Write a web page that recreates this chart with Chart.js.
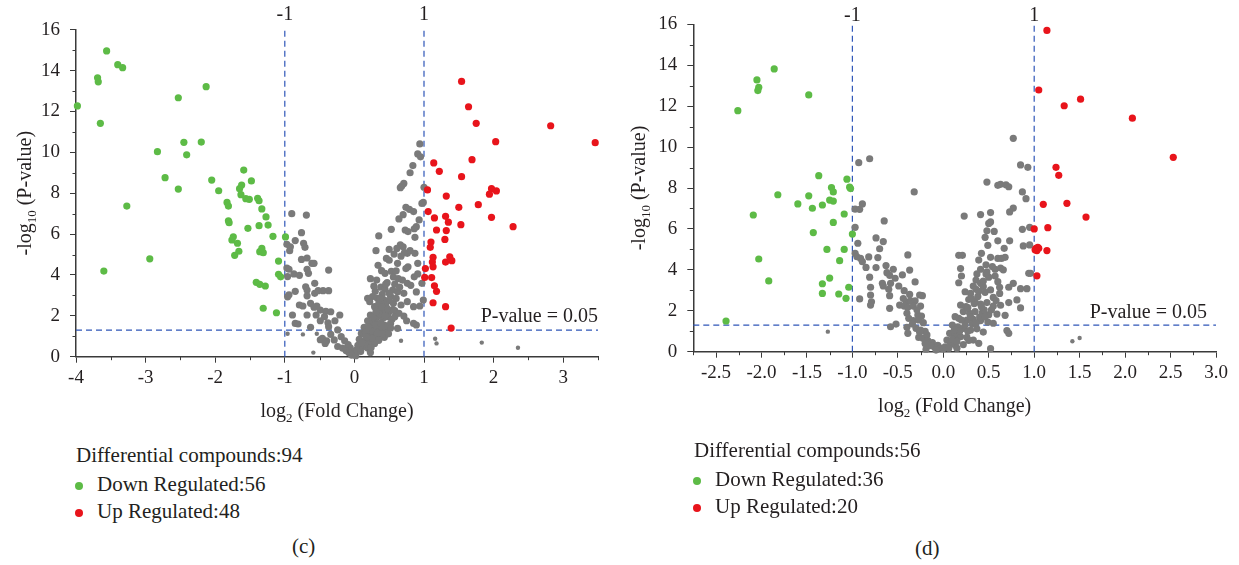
<!DOCTYPE html>
<html>
<head>
<meta charset="utf-8">
<script src="https://cdn.jsdelivr.net/npm/chart.js@4.4.1/dist/chart.umd.min.js"></script>
<style>
  body { margin: 0; background: #fff; }
  #wrap { position: relative; width: 1239px; height: 565px; overflow: hidden; font-family: 'Liberation Serif', serif; color: #231f20; }
  canvas { position: absolute; top: 0; }
  .txt { position: absolute; font-size: 21px; line-height: 20px; white-space: nowrap; }
  .dot { position: absolute; width: 8px; height: 8px; border-radius: 50%; }
</style>
</head>
<body>
<div id="wrap">
  <canvas id="chartC" width="620" height="440" style="left:0"></canvas>
  <canvas id="chartD" width="619" height="440" style="left:620px"></canvas>

  <div class="txt" style="left:76px; top:445px">Differential compounds:94</div>
  <div class="dot" style="left:75px; top:482px; background:#5dbb46"></div>
  <div class="txt" style="left:97px; top:474px">Down Regulated:56</div>
  <div class="dot" style="left:75px; top:509px; background:#e8141b"></div>
  <div class="txt" style="left:97px; top:501px">Up Regulated:48</div>
  <div class="txt" style="left:292px; top:536px">(c)</div>

  <div class="txt" style="left:694px; top:440px">Differential compounds:56</div>
  <div class="dot" style="left:693px; top:477px; background:#5dbb46"></div>
  <div class="txt" style="left:715px; top:469px">Down Regulated:36</div>
  <div class="dot" style="left:693px; top:504px; background:#e8141b"></div>
  <div class="txt" style="left:715px; top:496px">Up Regulated:20</div>
  <div class="txt" style="left:915px; top:538px">(d)</div>
</div>
<script>
// thresholds
var foldCut = [-1, 1];
var pCut = 1.3;   // -log10(0.05)

// panel (c) axes
var cXTicks = [-4, -3, -2, -1, 0, 1, 2, 3];
var cXMinor = [-3.5, -2.5, -1.5, -0.5, 0.5, 1.5, 2.5, 3.5];
var cYTicks = [0, 2, 4, 6, 8, 10, 12, 14, 16];
var yMinor = [1, 3, 5, 7, 9, 11, 13, 15];

// panel (d) axes
var dXTicks = [-2.5, -2.0, -1.5, -1.0, -0.5, 0.0, 0.5, 1.0, 1.5, 2.0, 2.5, 3.0];
var dXMinor = [-2.75, -2.25, -1.75, -1.25, -0.75, -0.25, 0.25, 0.75, 1.25, 1.75, 2.25, 2.75];
var dYTicks = [0, 2, 4, 6, 8, 10, 12, 14, 16];

// panel (c) points: [log2 FC, -log10 p]
var cDown = [[-3.98,12.27],[-3.56,14.96],[-3.40,14.29],[-3.33,14.14],[-3.69,13.65],[-3.68,13.45],[-3.65,11.42],[-3.27,7.37],
  [-3.60,4.19],[-2.94,4.79],[-2.83,10.03],[-2.72,8.76],[-2.53,12.67],[-2.53,8.20],[-2.45,10.49],[-2.41,9.88],[-2.20,10.50],
  [-2.13,13.21],[-2.05,8.64],[-1.95,8.12],[-1.83,7.55],[-1.81,7.37],[-1.81,6.65],[-1.80,6.56],[-1.76,5.71],[-1.74,5.87],
  [-1.72,4.96],[-1.68,5.55],[-1.66,5.16],[-1.65,8.22],[-1.62,8.40],[-1.63,7.93],[-1.59,9.13],[-1.56,7.73],[-1.51,7.70],
  [-1.53,6.28],[-1.48,8.60],[-1.39,7.75],[-1.37,7.63],[-1.33,7.23],[-1.37,6.41],[-1.36,5.14],[-1.33,5.30],[-1.31,5.09],
  [-1.27,6.84],[-1.24,6.44],[-1.41,3.64],[-1.36,3.54],[-1.28,3.46],[-1.31,2.37],[-1.17,5.89],[-1.12,2.15],[-1.09,4.68],
  [-1.09,4.03],[-1.06,3.91],[-0.99,5.86]];
var cUp = [[1.54,13.47],[1.64,12.23],[1.75,11.42],[2.82,11.30],[3.46,10.47],[2.03,10.52],[1.14,9.48],[1.22,9.07],[1.69,9.64],
  [1.54,8.81],[1.05,8.16],[1.32,7.86],[1.97,8.22],[2.04,8.11],[1.94,7.95],[1.78,7.44],[1.50,7.31],[1.06,7.10],[1.15,6.79],
  [1.31,6.87],[1.35,6.58],[1.97,6.82],[1.53,6.46],[2.28,6.36],[1.18,6.20],[1.32,6.17],[1.30,5.74],[1.10,5.61],[1.09,5.35],
  [1.13,4.86],[1.12,4.63],[1.37,4.89],[1.40,4.70],[1.31,4.63],[1.13,4.40],[1.02,4.31],[1.01,3.88],[1.11,3.87],[1.15,3.47],
  [1.18,3.20],[1.13,2.64],[1.31,2.45],[1.39,1.40]];
var cNs = [[-0.90,7.00],[-0.69,6.93],[-0.76,6.07],[-0.97,5.50],[-0.92,5.38],[-0.85,5.68],[-0.73,5.55],[-0.71,5.35],[-0.93,5.19],
  [-0.76,4.76],[-0.68,4.83],[-0.61,4.57],[-0.58,4.57],[-0.97,4.34],[-0.94,4.28],[-0.96,3.92],[-0.87,4.05],[-0.79,3.98],
  [-0.68,4.28],[-0.66,4.08],[-0.37,4.24],[-0.57,3.59],[-0.70,3.42],[-0.68,3.26],[-0.45,3.23],[-0.37,3.23],[-0.96,2.93],
  [-0.94,3.03],[-0.85,3.20],[-0.68,2.98],[-0.57,3.10],[-0.79,2.53],[-0.74,2.48],[-0.63,2.61],[-0.58,2.42],[-0.54,2.48],
  [-0.49,2.28],[-0.41,2.22],[-0.89,2.04],[-0.68,2.04],[-0.55,2.04],[-0.85,1.63],[-0.81,1.60],[-0.63,1.44],[-0.49,1.76],
  [-0.38,1.66],[-0.49,0.83],[-0.40,0.77],[-0.43,1.96],[-0.34,2.20],[-0.21,2.04],[-0.28,1.76],[-0.37,1.47],[-0.34,1.09],
  [-0.24,1.31],[-0.19,0.98],[-0.14,0.78],[-0.09,0.59],[-0.06,0.43],[-0.03,0.26],[0.00,0.15],[-0.46,0.90],[-0.42,0.65],
  [-0.29,0.82],[-0.24,0.50],[-0.17,0.42],[-0.52,3.23],[-0.12,0.30],[-0.08,0.20],[-0.04,0.08],[0.02,0.05],
  [0.94,10.41],[0.91,9.92],[0.95,9.78],[0.84,9.35],[0.80,9.00],[0.71,8.48],[0.68,8.35],[0.66,8.27],[1.00,8.29],[0.97,7.50],
  [0.99,7.55],[0.74,7.31],[0.79,7.21],[0.85,7.10],[0.70,6.95],[0.64,6.74],[0.93,6.69],[0.89,6.36],[0.86,6.26],[0.53,6.23],
  [0.73,6.20],[0.77,6.12],[0.35,5.91],[0.87,5.84],[0.66,5.47],[0.70,5.38],[0.61,5.30],[0.80,5.19],[0.76,5.06],[0.72,5.09],
  [0.50,5.25],[0.31,5.19],[0.57,5.02],[0.67,4.92],[0.87,5.06],[0.46,4.81],[0.50,4.72],[0.62,4.57],[0.91,4.57],[0.34,4.47],
  [0.77,4.40],[0.74,4.31],[0.39,4.21],[0.44,4.08],[0.53,4.18],[0.91,4.05],[0.86,3.91],[0.23,3.82],[0.32,3.75],[0.63,3.82],
  [0.69,3.75],[0.47,3.62],[0.76,3.59],[0.81,3.49],[0.97,3.59],[0.38,3.40],[0.44,3.30],[0.55,3.26],[0.62,3.18],[0.71,3.10],
  [0.89,3.17],[0.26,2.94],[0.19,2.86],[0.22,2.69],[0.33,2.86],[0.43,2.77],[0.50,2.74],[0.56,2.61],[0.67,2.53],[0.76,2.69],
  [0.99,2.77],[0.85,2.45],[0.94,2.48],[0.29,2.45],[0.35,2.37],[0.43,2.28],[0.50,2.20],[0.58,2.25],[0.64,2.12],[0.23,2.04],
  [0.33,1.96],[0.41,1.88],[0.48,1.96],[0.54,1.83],[0.71,1.99],[0.19,1.76],[0.26,1.66],[0.34,1.60],[0.43,1.55],[0.52,1.63],
  [0.75,1.76],[0.85,1.63],[0.89,1.55],[0.14,1.44],[0.22,1.34],[0.29,1.39],[0.38,1.31],[0.46,1.27],[0.62,1.39],[0.10,1.14],
  [0.18,1.05],[0.26,1.11],[0.33,0.98],[0.43,0.95],[0.07,0.85],[0.14,0.78],[0.22,0.72],[0.29,0.65],[0.05,0.56],[0.12,0.49],
  [0.19,0.43],[0.03,0.33],[0.09,0.25],[0.23,0.20],[0.30,1.80],[0.36,2.10],[0.40,1.45],[0.27,1.25],[0.45,2.50],[0.52,2.95],
  [0.40,3.05],[0.58,3.55],[0.30,3.20],[0.16,1.20],[0.20,0.95],[0.36,1.18],[0.48,1.50],[0.55,2.30],[0.60,2.85],[0.65,3.40],
  [0.42,2.60],[0.37,2.85],[0.15,0.60],[0.25,0.90],[0.31,1.55],[0.38,1.65],[0.44,2.00],[0.27,1.95],[0.35,2.60],[0.47,2.35],
  [0.52,1.40],[0.58,1.95],[0.20,1.45],[0.33,1.15],[0.24,0.45],[0.41,1.10],[0.50,3.10],[0.56,3.90],[0.45,3.55],[0.60,4.20],
  [0.28,3.45],[0.39,2.45],[0.31,2.20],[0.17,0.95],[0.11,0.68],[0.35,0.80],[0.49,1.12]];
var cNsSmall = [[-0.96,1.12],[-0.74,1.09],[-0.54,1.12],[-0.59,0.20],[0.67,0.78],[1.16,0.88],[1.18,0.65],[1.83,0.69],[2.35,0.44]];

// panel (d) points
var dDown = [[-2.39,1.50],[-2.26,11.78],[-2.05,13.28],[-2.03,12.92],[-2.04,12.76],[-1.86,13.82],[-1.48,12.55],[-2.09,6.68],
  [-2.03,4.53],[-1.92,3.46],[-1.82,7.67],[-1.60,7.22],[-1.48,7.62],[-1.44,7.01],[-1.37,8.60],[-1.33,7.17],[-1.43,5.82],
  [-1.23,8.02],[-1.21,7.81],[-1.25,7.41],[-1.21,7.36],[-1.21,6.32],[-1.28,5.00],[-1.25,3.60],[-1.33,3.32],[-1.33,2.85],
  [-1.15,2.82],[-1.14,4.45],[-1.09,5.00],[-1.07,2.61],[-1.04,3.15],[-1.09,6.73],[-1.06,8.43],[-1.03,8.04],[-1.02,7.97],
  [-1.00,5.75]];
var dUp = [[1.14,15.70],[1.05,12.79],[1.51,12.34],[1.33,12.02],[2.08,11.41],[2.53,9.50],[1.24,9.01],[1.27,8.62],[1.10,7.20],
  [1.36,7.25],[1.57,6.58],[1.00,6.00],[1.15,6.06],[1.02,5.05],[1.05,5.05],[1.03,4.94],[1.14,4.94],[1.03,3.71],[1.04,5.10],
  [1.01,4.98]];
var dNs = [[-0.93,9.24],[-0.81,9.43],[-0.97,6.97],[-0.92,6.96],[-0.89,7.22],[-0.97,6.08],[-0.65,6.39],[-0.32,7.81],[-0.94,5.30],
  [-0.74,5.56],[-0.70,5.03],[-0.66,5.38],[-0.97,4.81],[-0.95,4.64],[-0.91,4.56],[-0.89,4.40],[-0.82,4.63],[-0.72,4.60],
  [-0.39,4.73],[-0.85,4.12],[-0.74,4.11],[-0.63,4.21],[-0.55,4.03],[-0.37,3.99],[-0.81,3.64],[-0.62,3.86],[-0.59,3.73],
  [-0.53,3.59],[-0.45,3.75],[-0.67,3.34],[-0.66,3.21],[-0.58,3.34],[-0.49,3.21],[-0.80,3.15],[-0.31,3.41],[-0.60,3.05],
  [-0.80,2.77],[-0.59,2.74],[-0.92,2.58],[-0.79,2.44],[-0.80,2.28],[-0.43,2.98],[-0.41,2.44],[-0.36,2.49],[-0.31,2.49],
  [-0.26,2.77],[-0.23,2.74],[-0.48,2.28],[-0.43,2.23],[-0.39,2.17],[-0.33,2.23],[-0.25,2.23],[-0.59,2.12],[-0.40,1.88],
  [-0.28,1.79],[-0.24,1.74],[-0.38,1.63],[-0.33,1.52],[-0.27,1.55],[-0.22,1.42],[-0.52,1.35],[-0.58,1.22],[-0.40,1.19],
  [-0.39,0.90],[-0.30,1.14],[-0.25,1.06],[-0.27,0.70],[-0.22,0.65],[-0.18,0.82],[-0.17,0.54],[-0.15,0.41],[-0.12,0.44],
  [-0.10,0.24],[-0.06,0.31],[-0.03,0.17],[-0.19,0.12],[0.00,0.15],[-0.20,1.00],[-0.14,0.30],[-0.08,0.08],
  [-0.20,0.40],[-0.26,0.95],[-0.34,1.35],[-0.29,2.05],[-0.44,2.60],[-0.37,2.80],
  [0.77,10.43],[0.85,9.13],[0.93,9.01],[0.48,8.29],[0.60,8.13],[0.63,8.18],[0.69,8.16],[0.72,8.06],[0.87,7.81],[0.91,7.48],
  [0.77,7.02],[0.73,6.83],[0.52,6.80],[0.41,6.70],[0.23,6.63],[0.52,6.34],[0.50,6.27],[0.87,5.98],[0.95,6.08],[0.48,5.91],
  [0.56,5.88],[0.46,5.59],[0.60,5.42],[0.73,5.42],[0.49,5.20],[0.67,5.05],[0.88,5.17],[0.95,5.22],[0.42,4.81],[0.17,4.71],
  [0.21,4.71],[0.52,4.61],[0.60,4.56],[0.64,4.56],[0.68,4.61],[0.39,4.48],[0.47,4.25],[0.19,4.06],[0.54,4.16],[0.57,4.03],
  [0.41,4.03],[0.63,4.09],[0.37,3.80],[0.47,3.80],[0.50,3.64],[0.94,3.83],[0.96,3.83],[0.20,3.70],[0.17,3.37],[0.36,3.50],
  [0.41,3.34],[0.60,3.42],[0.77,3.34],[0.72,3.15],[0.85,3.08],[0.92,3.08],[0.33,3.21],[0.44,3.18],[0.52,3.02],[0.24,2.93],
  [0.30,2.85],[0.62,2.85],[0.81,2.53],[0.19,2.28],[0.25,2.20],[0.35,2.44],[0.41,2.33],[0.48,2.40],[0.55,2.23],[0.63,2.27],
  [0.72,2.40],[0.85,2.14],[0.22,1.96],[0.29,1.88],[0.35,1.96],[0.43,1.91],[0.50,1.81],[0.59,1.84],[0.68,1.78],[0.13,1.71],
  [0.17,1.63],[0.26,1.55],[0.33,1.58],[0.41,1.52],[0.49,1.45],[0.55,1.39],[0.10,1.30],[0.16,1.22],[0.22,1.14],[0.30,1.06],
  [0.37,1.12],[0.44,0.96],[0.70,1.03],[0.72,0.90],[0.07,0.90],[0.13,0.82],[0.19,0.73],[0.26,0.70],[0.33,0.57],[0.39,0.41],
  [0.04,0.57],[0.08,0.41],[0.13,0.33],[0.02,0.24],[0.06,0.17],[0.15,0.17],[0.52,0.15],[0.28,2.55],[0.38,2.70],[0.45,2.05],
  [0.32,1.35],[0.27,2.15],[0.40,1.70],[0.55,2.65],[0.36,3.05],[0.46,2.90],[0.10,0.60],[0.18,1.00],[0.24,1.30],[0.30,1.70],
  [0.36,1.40],[0.42,2.20],[0.27,1.00],[0.20,1.55],[0.34,2.35],[0.46,1.70],[0.53,2.05],[0.39,2.95],[0.31,2.60],[0.58,2.50],
  [0.44,3.45],[0.48,3.90],[0.15,0.50],[0.22,0.35],[0.28,0.55],[0.12,1.05],[0.62,3.15],[0.57,3.70],[0.66,4.00]];
var dNsSmall = [[-1.27,0.98],[1.42,0.51],[1.50,0.67]];

var GREEN = '#5dbb46', RED = '#e8141b', GRAY = '#7a7a7a', DASH = '#2f56b8', AXIS = '#3a3a3a', TEXT = '#231f20';
var FONT = '"Liberation Serif", serif';

function pts(arr) {
    return arr.map(function(p) { return { x: p[0], y: p[1] }; });
}

function drawParts(ctx, parts, x, y) {
    // parts: [text, isSubscript]; drawn centred on x
    var total = 0;
    parts.forEach(function(p) {
        ctx.font = (p[1] ? '13px ' : '20px ') + FONT;
        total += ctx.measureText(p[0]).width;
    });
    var cx = x - total / 2;
    parts.forEach(function(p) {
        ctx.font = (p[1] ? '13px ' : '20px ') + FONT;
        ctx.fillText(p[0], cx, y + (p[1] ? 5 : 0));
        cx += ctx.measureText(p[0]).width;
    });
}

// minor ticks, axis titles and threshold labels
var volcanoDecor = {
    id: 'volcanoDecor',
    afterDraw: function(chart, args, opts) {
        var ctx = chart.ctx, xs = chart.scales.x, ys = chart.scales.y, area = chart.chartArea;
        ctx.save();
        ctx.strokeStyle = AXIS;
        ctx.lineWidth = 1;
        ctx.beginPath();
        opts.xMinor.forEach(function(v) {
            var px = Math.round(xs.getPixelForValue(v)) + 0.5;
            ctx.moveTo(px, area.bottom);
            ctx.lineTo(px, area.bottom + 3.5);
        });
        opts.yMinor.forEach(function(v) {
            var py = Math.round(ys.getPixelForValue(v)) + 0.5;
            ctx.moveTo(area.left, py);
            ctx.lineTo(area.left - 3.5, py);
        });
        ctx.stroke();

        ctx.fillStyle = TEXT;
        ctx.textBaseline = 'alphabetic';
        drawParts(ctx, [['log', 0], ['2', 1], [' (Fold Change)', 0]], (area.left + area.right) / 2, opts.xTitleY);

        ctx.save();
        ctx.translate(opts.yTitleX, (area.top + area.bottom) / 2);
        ctx.rotate(-Math.PI / 2);
        drawParts(ctx, [['-log', 0], ['10', 1], [' (P-value)', 0]], 0, 0);
        ctx.restore();

        ctx.font = '20px ' + FONT;
        ctx.textAlign = 'center';
        foldCut.forEach(function(v) {
            ctx.fillText(String(v), xs.getPixelForValue(v), opts.cutLabelY);
        });
        ctx.textAlign = 'right';
        ctx.fillText('P-value = 0.05', area.right + opts.pLabelDx, ys.getPixelForValue(pCut) - opts.pLabelDy);
        ctx.restore();
    }
};

function makeChart(id, cfg) {
    var xMin = cfg.xTicks.concat(cfg.xMinor).reduce(function(a, b) { return Math.min(a, b); });
    var xMax = cfg.xTicks.concat(cfg.xMinor).reduce(function(a, b) { return Math.max(a, b); });
    var dashed = {
        type: 'line', showLine: true, pointRadius: 0, borderColor: DASH, borderWidth: 1.2,
        borderDash: [6, 4], fill: false, order: 3, clip: false
    };
    var datasets = [
        { label: 'Down', data: pts(cfg.down), backgroundColor: GREEN, pointRadius: 3.6, pointBorderWidth: 0, order: 1, clip: false },
        { label: 'Up', data: pts(cfg.up), backgroundColor: RED, pointRadius: 3.6, pointBorderWidth: 0, order: 1, clip: false },
        { label: 'NS', data: pts(cfg.ns), backgroundColor: GRAY, pointRadius: 3.6, pointBorderWidth: 0, order: 2, clip: false },
        { label: 'NS small', data: pts(cfg.nsSmall), backgroundColor: GRAY, pointRadius: 2.2, pointBorderWidth: 0, order: 2, clip: false }
    ];
    foldCut.forEach(function(v) {
        datasets.push(Object.assign({}, dashed, { data: [{ x: v, y: 0 }, { x: v, y: 16 }] }));
    });
    datasets.push(Object.assign({}, dashed, { data: [{ x: xMin, y: pCut }, { x: xMax, y: pCut }] }));

    return new Chart(document.getElementById(id), {
        type: 'scatter',
        data: { datasets: datasets },
        plugins: [volcanoDecor],
        options: {
            responsive: false,
            animation: false,
            layout: { padding: { left: 0, right: cfg.padRight, top: cfg.padTop, bottom: 0 } },
            plugins: {
                legend: { display: false },
                tooltip: { enabled: false },
                volcanoDecor: cfg.decor
            },
            scales: {
                x: {
                    type: 'linear', min: xMin, max: xMax,
                    afterBuildTicks: function(s) { s.ticks = cfg.xTicks.map(function(v) { return { value: v }; }); },
                    afterFit: function(s) { s.height = cfg.xAxisH; },
                    grid: { display: true, drawOnChartArea: false, drawTicks: true, tickLength: 6, tickColor: AXIS, tickWidth: 1 },
                    border: { display: true, color: AXIS, width: 1.5 },
                    ticks: {
                        font: { family: FONT, size: 19 }, color: TEXT, padding: 4,
                        maxRotation: 0, autoSkip: false, callback: cfg.xFmt
                    }
                },
                y: {
                    type: 'linear', min: 0, max: 16,
                    afterBuildTicks: function(s) { s.ticks = cfg.yTicks.map(function(v) { return { value: v }; }); },
                    afterFit: function(s) { s.width = cfg.yAxisW; },
                    grid: { display: true, drawOnChartArea: false, drawTicks: true, tickLength: 6, tickColor: AXIS, tickWidth: 1 },
                    border: { display: true, color: AXIS, width: 1.5 },
                    ticks: { font: { family: FONT, size: 19 }, color: TEXT, padding: 10, autoSkip: false }
                }
            }
        }
    });
}

var charts = [];
charts.push(makeChart('chartC', {
    down: cDown, up: cUp, ns: cNs, nsSmall: cNsSmall,
    xTicks: cXTicks, xMinor: cXMinor, yTicks: cYTicks,
    padRight: 22, padTop: 29.7, yAxisW: 76, xAxisH: 440 - 356.7,
    xFmt: function(v) { return String(v); },
    decor: { xMinor: cXMinor, yMinor: yMinor, xTitleY: 416.7, yTitleX: 31, cutLabelY: 20, pLabelDx: 0, pLabelDy: 8.4 }
}));

charts.push(makeChart('chartD', {
    down: dDown, up: dUp, ns: dNs, nsSmall: dNsSmall,
    xTicks: dXTicks, xMinor: dXMinor, yTicks: dYTicks,
    padRight: 23, padTop: 24.3, yAxisW: 73.3, xAxisH: 440 - 351.7,
    xFmt: function(v) { return Number(v).toFixed(1); },
    decor: { xMinor: dXMinor, yMinor: yMinor, xTitleY: 411.7, yTitleX: 25, cutLabelY: 20.5, pLabelDx: -9, pLabelDy: 6.8 }
}));

// redraw once the serif face is ready for canvas text
if (document.fonts && document.fonts.load) {
    Promise.all([
        document.fonts.load('19px "Liberation Serif"'),
        document.fonts.load('13px "Liberation Serif"')
    ]).then(function() {
        charts.forEach(function(c) { c.update('none'); });
    });
}
</script>
</body>
</html>
